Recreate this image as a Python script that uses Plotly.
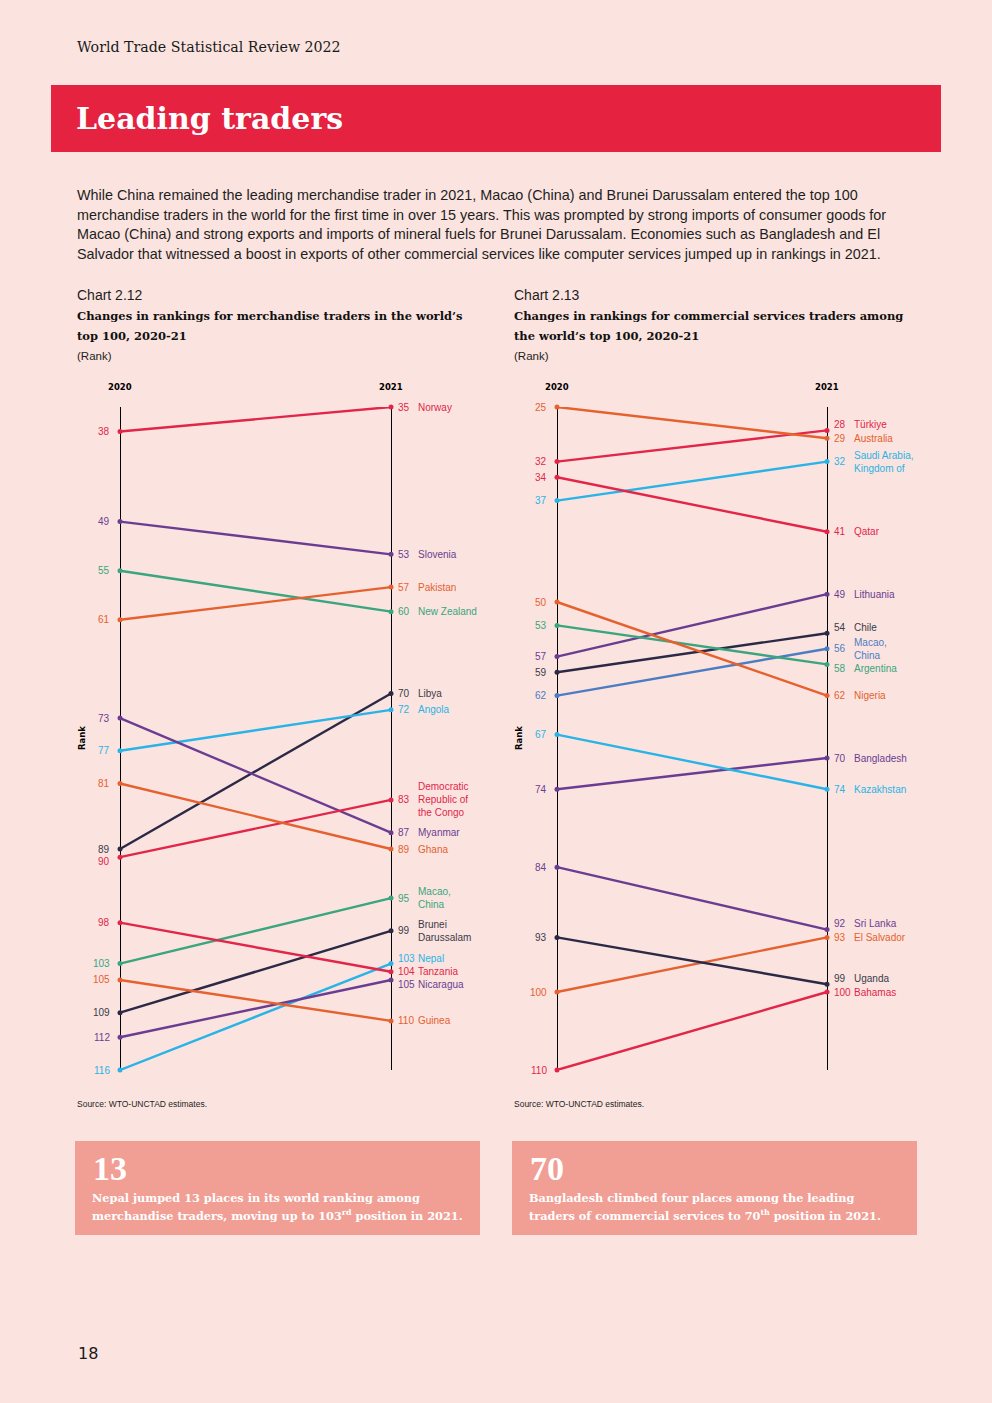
import plotly.graph_objects as go

# ---------------- data ----------------
merch_names = ["Norway", "Slovenia", "New Zealand", "Pakistan", "Libya", "Angola", "Myanmar",
               "Democratic<br>Republic of<br>the Congo", "Ghana", "Macao,<br>China",
               "Brunei<br>Darussalam", "Nepal", "Tanzania", "Nicaragua", "Guinea"]
merch_2020 = [38, 49, 55, 61, 89, 77, 73, 90, 81, 103, 109, 116, 98, 112, 105]
merch_2021 = [35, 53, 60, 57, 70, 72, 87, 83, 89, 95, 99, 103, 104, 105, 110]

serv_names = ["Türkiye", "Australia", "Saudi Arabia,<br>Kingdom of", "Qatar", "Lithuania", "Chile",
              "Macao,<br>China", "Argentina", "Nigeria", "Bangladesh", "Kazakhstan",
              "Sri Lanka", "El Salvador", "Uganda", "Bahamas"]
serv_2020 = [32, 25, 37, 34, 57, 59, 62, 53, 50, 74, 67, 84, 100, 93, 110]
serv_2021 = [28, 29, 32, 41, 49, 54, 56, 58, 62, 70, 74, 92, 93, 99, 100]

years = ["2020", "2021"]

# ---------------- styles ----------------
RED, ORA, GRN, PUR, NAV, CYA, BLU = "#E2264A", "#E5612F", "#3AA57E", "#6B3D92", "#2B2946", "#29B3E6", "#4D7CC3"
merch_colors = [RED, PUR, GRN, ORA, NAV, CYA, PUR, RED, ORA, GRN, NAV, CYA, RED, PUR, ORA]
serv_colors = [RED, ORA, CYA, RED, PUR, NAV, BLU, GRN, ORA, PUR, CYA, PUR, ORA, NAV, RED]
# label nudges in pixels (positive = up) to avoid overlaps
merch_nudge_2021 = {"Nepal": 5, "Nicaragua": -5}
merch_nudge_2020 = {90: -4}
serv_nudge_2021 = {"Türkiye": 6, "Chile": 6, "Argentina": -4, "Sri Lanka": 6, "Uganda": 6}

BG = "#FBE4DF"
W, H = 992, 1403
LABEL_FONT = "Liberation Sans"


def P(px):
    return px / W


def Q(py):
    return 1 - py / H


fig = go.Figure()
annotations = []
shapes = []


def add_chart(names, v20, v21, colors, xa, ya, nudge20, nudge21):
    xref = "x" if xa == 1 else "x%d" % xa
    yref = "y" if ya == 1 else "y%d" % ya
    for n, a, b, c in zip(names, v20, v21, colors):
        fig.add_trace(go.Scatter(
            x=[0, 1], y=[a, b], mode="lines+markers",
            line=dict(color=c, width=2.4), marker=dict(color=c, size=5),
            xaxis=xref, yaxis=yref, showlegend=False, cliponaxis=False,
            hoverinfo="skip"))
        txtcol = "#3A3A4A" if c == NAV else c
        annotations.append(dict(x=0, y=a, xref=xref, yref=yref, text=str(a), showarrow=False,
                                xanchor="right", yanchor="middle", xshift=-8,
                                yshift=nudge20.get(a, 0),
                                font=dict(family=LABEL_FONT, size=10, color=txtcol)))
        ys = nudge21.get(n, 0)
        annotations.append(dict(x=1, y=b, xref=xref, yref=yref, text=str(b), showarrow=False,
                                xanchor="left", yanchor="middle", xshift=5, yshift=ys,
                                font=dict(family=LABEL_FONT, size=10, color=txtcol)))
        annotations.append(dict(x=1, y=b, xref=xref, yref=yref, text=n, showarrow=False,
                                xanchor="left", yanchor="middle", xshift=25, yshift=ys, align="left",
                                font=dict(family=LABEL_FONT, size=10, color=txtcol)))
    for i, yr in enumerate(years):
        annotations.append(dict(x=i, y=Q(387), xref=xref, yref="paper", text="<b>%s</b>" % yr,
                                showarrow=False, xanchor="center", yanchor="middle",
                                font=dict(family="DejaVu Sans", size=8.5, color="#000")))


def axis_setup(x20px, x21px, top_px, bot_px, ymin, ymax):
    span = x21px - x20px
    pad = 12
    xa = dict(domain=[P(x20px - pad), P(x21px + pad)], range=[-pad / span, 1 + pad / span],
              showgrid=True, tickvals=[0, 1], gridcolor="#000000", gridwidth=1,
              showticklabels=False, zeroline=False, showline=False, fixedrange=True)
    ya = dict(domain=[Q(bot_px), Q(top_px)], range=[ymax, ymin], showgrid=False,
              showticklabels=False, zeroline=False, showline=False, fixedrange=True)
    return xa, ya


add_chart(merch_names, merch_2020, merch_2021, merch_colors, 1, 1, merch_nudge_2020, merch_nudge_2021)
add_chart(serv_names, serv_2020, serv_2021, serv_colors, 2, 2, {}, serv_nudge_2021)

xa1, ya1 = axis_setup(120, 391, 407, 1070, min(merch_2020 + merch_2021), max(merch_2020 + merch_2021))
xa2, ya2 = axis_setup(557, 827, 407, 1070, min(serv_2020 + serv_2021), max(serv_2020 + serv_2021))
ya2["anchor"] = "x2"
xa2["anchor"] = "y2"


def text(px, py, s, size, family="Liberation Sans", color="#1a1a1a", xanchor="left", textangle=0):
    annotations.append(dict(x=P(px), y=Q(py), xref="paper", yref="paper", text=s, showarrow=False,
                            xanchor=xanchor, yanchor="middle", textangle=textangle, align="left",
                            font=dict(family=family, size=size, color=color)))


# header
text(75, 47, "World Trade Statistical Review 2022", 14.2, family="DejaVu Serif", color="#1a1a1a")
shapes.append(dict(type="rect", xref="paper", yref="paper", x0=P(51), x1=P(941), y0=Q(152), y1=Q(85),
                   fillcolor="#E5223F", line=dict(width=0), layer="below"))
text(74, 118, "<b>Leading traders</b>", 30, family="DejaVu Serif", color="#FFFFFF")

para = ["While China remained the leading merchandise trader in 2021, Macao (China) and Brunei Darussalam entered the top 100",
        "merchandise traders in the world for the first time in over 15 years. This was prompted by strong imports of consumer goods for",
        "Macao (China) and strong exports and imports of mineral fuels for Brunei Darussalam. Economies such as Bangladesh and El",
        "Salvador that witnessed a boost in exports of other commercial services like computer services jumped up in rankings in 2021."]
for i, line in enumerate(para):
    text(75, 195 + i * 19.7, line, 14.4, color="#1e1e1e")

# chart titles
for x0, num, l1, l2 in [(75, "Chart 2.12", "Changes in rankings for merchandise traders in the world’s", "top 100, 2020-21"),
                        (512, "Chart 2.13", "Changes in rankings for commercial services traders among", "the world’s top 100, 2020-21")]:
    text(x0, 295, num, 14, color="#1e1e1e")
    text(x0, 316, "<b>%s</b>" % l1, 11.5, family="DejaVu Serif", color="#111")
    text(x0, 336, "<b>%s</b>" % l2, 11.5, family="DejaVu Serif", color="#111")
    text(x0, 356, "(Rank)", 11.5, color="#1e1e1e")
    text(x0, 1104, "Source: WTO-UNCTAD estimates.", 8.5, family="Liberation Sans", color="#1e1e1e")

text(82, 738, "<b>Rank</b>", 8.5, family="DejaVu Sans", color="#000", xanchor="center", textangle=-90)
text(519, 738, "<b>Rank</b>", 8.5, family="DejaVu Sans", color="#000", xanchor="center", textangle=-90)

# callouts
for x0, big, l1, l2 in [(75, "13", "Nepal jumped 13 places in its world ranking among",
                         "merchandise traders, moving up to 103<sup>rd</sup> position in 2021."),
                        (512, "70", "Bangladesh climbed four places among the leading",
                         "traders of commercial services to 70<sup>th</sup> position in 2021.")]:
    shapes.append(dict(type="rect", xref="paper", yref="paper", x0=P(x0), x1=P(x0 + 405),
                       y0=Q(1235), y1=Q(1141), fillcolor="#F19E94", line=dict(width=0), layer="below"))
    text(x0 + 16, 1168, "<b>%s</b>" % big, 34, family="Liberation Serif", color="#FFFFFF")
    text(x0 + 15, 1198, "<b>%s</b>" % l1, 11.3, family="DejaVu Serif", color="#FFFFFF")
    text(x0 + 15, 1215, "<b>%s</b>" % l2, 11.3, family="DejaVu Serif", color="#FFFFFF")

text(76, 1353, "18", 16, family="DejaVu Sans", color="#1a1a1a")

fig.update_layout(
    width=W, height=H, margin=dict(l=0, r=0, t=0, b=0),
    paper_bgcolor=BG, plot_bgcolor="rgba(0,0,0,0)",
    xaxis=xa1, yaxis=ya1, xaxis2=xa2, yaxis2=ya2,
    annotations=annotations, shapes=shapes, showlegend=False,
)

fig.write_html("out.html", config={"displayModeBar": False},
               post_script="document.body.style.margin='0';document.body.style.background='%s';" % BG)
